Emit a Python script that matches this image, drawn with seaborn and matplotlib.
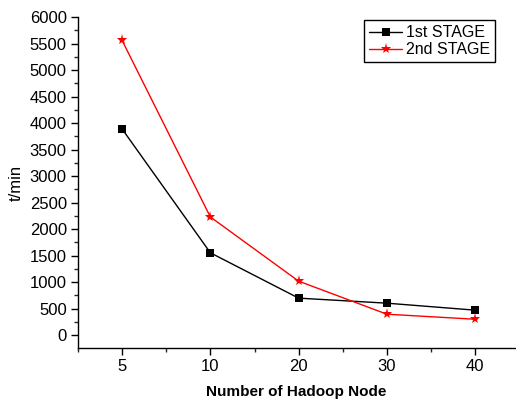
import matplotlib
matplotlib.use("Agg")
import matplotlib.pyplot as plt
import seaborn as sns
import pandas as pd
import numpy as np
from matplotlib.ticker import MultipleLocator

nodes = ["5", "10", "20", "30", "40"]
stage1 = [3890, 1555, 700, 605, 473]
stage2 = [5560, 2230, 1020, 397, 302]

sns.set_style("ticks")
plt.rcParams['font.family'] = ['Liberation Sans', 'DejaVu Sans']

pos = list(range(len(nodes)))
df = pd.DataFrame({
    "pos": pos * 2,
    "t": stage1 + stage2,
    "stage": ["1st STAGE"] * len(nodes) + ["2nd STAGE"] * len(nodes),
})

fig = plt.figure(figsize=(5.16, 4.0), dpi=100)
ax = fig.add_axes([0.151, 0.13, 0.847, 0.8275])

sns.lineplot(data=df, x="pos", y="t", hue="stage", style="stage",
             palette={"1st STAGE": "black", "2nd STAGE": "red"},
             markers={"1st STAGE": "s", "2nd STAGE": "*"},
             dashes=False, linewidth=1.0, markeredgewidth=0,
             ax=ax)
for ln in ax.lines:
    if ln.get_marker() == "s":
        ln.set_markersize(5.2)
    elif ln.get_marker() == "*":
        ln.set_markersize(8)

ax.set_xlim(-0.5, 4.45)
ax.set_ylim(-240, 6000)
ax.set_xticks(pos)
ax.set_xticklabels(nodes)
ax.xaxis.set_minor_locator(MultipleLocator(0.5))
ax.yaxis.set_major_locator(MultipleLocator(500))
ax.yaxis.set_minor_locator(MultipleLocator(250))
ax.tick_params(axis="both", which="major", direction="out", length=5, width=1,
               labelsize=12, colors="black", pad=3)
ax.tick_params(axis="both", which="minor", direction="out", length=3, width=1)
for s in ["top", "right"]:
    ax.spines[s].set_visible(False)
for s in ["left", "bottom"]:
    ax.spines[s].set_linewidth(1.0)
    ax.spines[s].set_color("black")

ax.set_xlabel("Number of Hadoop Node", fontsize=11, fontweight="bold",
              labelpad=8, color="black")
ax.set_ylabel("t/min", fontsize=12, labelpad=4, color="black")

leg = ax.legend(loc="upper right", bbox_to_anchor=(0.955, 0.99), fontsize=11.5,
                frameon=True, fancybox=False, edgecolor="black",
                borderpad=0.3, handlelength=2.1, labelspacing=0.15, handletextpad=0.25,
                borderaxespad=0)
leg.get_frame().set_linewidth(1.0)
leg.get_frame().set_alpha(1)
for t in leg.get_texts():
    t.set_color("black")

fig.savefig("out.png", dpi=100)
